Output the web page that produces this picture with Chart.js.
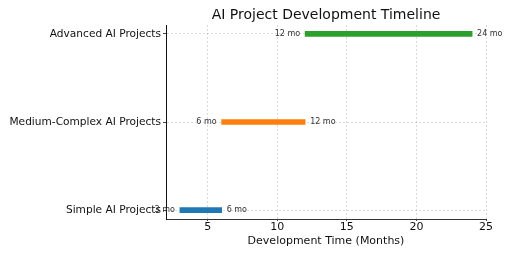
<!DOCTYPE html>
<html>
<head>
<meta charset="utf-8">
<script src="https://cdn.jsdelivr.net/npm/chart.js@4/dist/chart.umd.min.js"></script>
<style>
html,body{margin:0;padding:0;background:#fff;}
#wrap{width:512px;height:256px;}
</style>
</head>
<body>
<div id="wrap"><canvas id="c" width="512" height="256"></canvas></div>
<script>
const categories = ["Simple AI Projects", "Medium-Complex AI Projects", "Advanced AI Projects"];
const startMonths = [3, 6, 12];
const endMonths = [6, 12, 24];
const barColors = ["#1f77b4", "#ff7f0e", "#2ca02c"];
const xTicks = [5, 10, 15, 20, 25];
const titleText = "AI Project Development Timeline";
const xTitle = "Development Time (Months)";

const FONT = "'DejaVu Sans', sans-serif";

const labelPlugin = {
  id: 'labels',
  afterDraw(chart) {
    const ctx = chart.ctx;
    const xs = chart.scales.x, ys = chart.scales.y;
    const ca = chart.chartArea;
    ctx.save();
    ctx.fillStyle = '#111';
    ctx.font = "14px " + FONT;
    ctx.textAlign = 'center';
    ctx.textBaseline = 'middle';
    ctx.fillText(titleText, (ca.left + ca.right) / 2, 15);
    ctx.font = "8px " + FONT;
    ctx.fillStyle = '#333';
    categories.forEach((c, i) => {
      const y = ys.getPixelForValue(i);
      ctx.textAlign = 'right';
      ctx.fillText(startMonths[i] + " mo", xs.getPixelForValue(startMonths[i]) - 5, y);
      ctx.textAlign = 'left';
      ctx.fillText(endMonths[i] + " mo", xs.getPixelForValue(endMonths[i]) + 5, y);
    });
    ctx.restore();
  }
};

new Chart(document.getElementById('c'), {
  type: 'bar',
  data: {
    datasets: [{
      data: categories.map((c, i) => ({ y: i, x: [startMonths[i], endMonths[i]] })),
      backgroundColor: barColors,
      borderWidth: 0,
      barThickness: 5,
      grouped: false
    }]
  },
  options: {
    indexAxis: 'y',
    responsive: false,
    animation: false,
    layout: { padding: { top: 25, right: 26, left: 0, bottom: 0 } },
    plugins: { legend: { display: false }, tooltip: { enabled: false }, title: { display: false } },
    scales: {
      x: {
        type: 'linear',
        min: 2, max: 25,
        afterBuildTicks: a => { a.ticks = xTicks.map(v => ({ value: v })); },
        afterFit: a => { a.height = 37; },
        grid: { color: 'rgba(0,0,0,0.15)', tickColor: '#444', tickLength: 2 },
        border: { color: '#333', width: 1, dash: [2, 2] },
        ticks: { color: '#111', font: { family: FONT, size: 11 }, padding: 0, maxRotation: 0 },
        title: { display: true, text: xTitle, color: '#111', font: { family: FONT, size: 11 }, padding: { top: 1, bottom: 8 } }
      },
      y: {
        type: 'linear',
        offset: false,
        min: -0.1, max: 2.1,
        afterBuildTicks: a => { a.ticks = categories.map((c, i) => ({ value: i })); },
        afterFit: a => { a.width = 166; },
        grid: { offset: false, color: 'rgba(0,0,0,0.15)', tickColor: '#444', tickLength: 3 },
        border: { color: '#111', width: 1, dash: [2, 2] },
        ticks: { color: '#111', font: { family: FONT, size: 10.6 }, padding: 2, callback: v => categories[v] }
      }
    }
  },
  plugins: [labelPlugin]
});
</script>
</body>
</html>
